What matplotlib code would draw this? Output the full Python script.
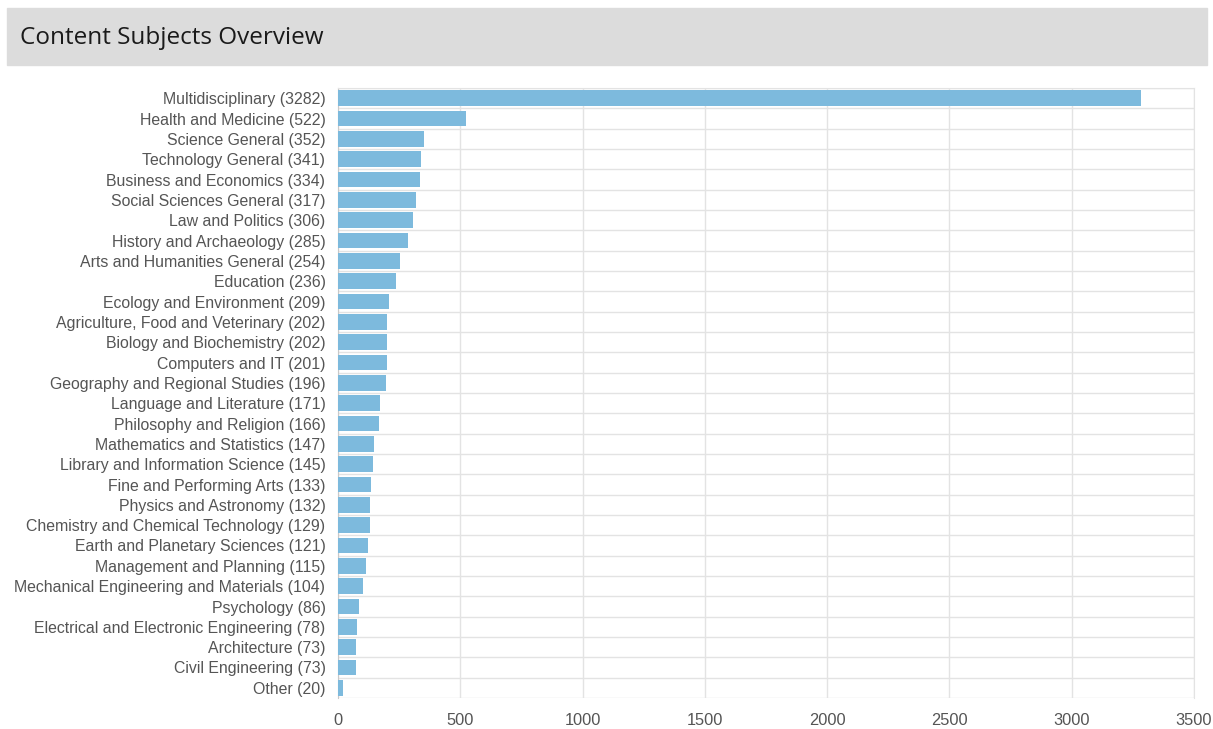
import matplotlib.pyplot as plt
from matplotlib.patches import Rectangle

subjects = [
    "Multidisciplinary", "Health and Medicine", "Science General",
    "Technology General", "Business and Economics", "Social Sciences General",
    "Law and Politics", "History and Archaeology", "Arts and Humanities General",
    "Education", "Ecology and Environment", "Agriculture, Food and Veterinary",
    "Biology and Biochemistry", "Computers and IT", "Geography and Regional Studies",
    "Language and Literature", "Philosophy and Religion", "Mathematics and Statistics",
    "Library and Information Science", "Fine and Performing Arts",
    "Physics and Astronomy", "Chemistry and Chemical Technology",
    "Earth and Planetary Sciences", "Management and Planning",
    "Mechanical Engineering and Materials", "Psychology",
    "Electrical and Electronic Engineering", "Architecture", "Civil Engineering",
    "Other",
]
counts = [3282, 522, 352, 341, 334, 317, 306, 285, 254, 236, 209, 202, 202, 201,
          196, 171, 166, 147, 145, 133, 132, 129, 121, 115, 104, 86, 78, 73, 73, 20]
xticks = [0, 500, 1000, 1500, 2000, 2500, 3000, 3500]

labels = [f"{s} ({c})" for s, c in zip(subjects, counts)]

fig = plt.figure(figsize=(12.13, 7.29), dpi=100)

# grey title banner
fig.patches.append(Rectangle((7 / 1213, 1 - 65 / 729), 1200 / 1213, 57 / 729,
                             transform=fig.transFigure, color="#dcdcdc", zorder=0))
fig.text(20 / 1213, 1 - 38 / 729, "Content Subjects Overview", family="Open Sans",
         fontsize=17.5, color="#1a1a1a", va="center", ha="left")

ax = fig.add_axes([338 / 1213, 1 - 698 / 729, 856 / 1213, 610 / 729])
n = len(labels)
y = list(range(n))
ax.barh(y, counts, height=0.78, color="#7dbadd", zorder=3)
ax.set_ylim(n - 0.5, -0.5)
ax.set_xlim(0, 3500)
ax.set_yticks(y)
ax.set_yticklabels(labels, family="Liberation Sans", fontsize=11.4, color="#555555")
ax.set_xticks(xticks)
ax.set_xticklabels([str(t) for t in xticks], family="Liberation Sans",
                   fontsize=11.8, color="#555555")
ax.tick_params(length=0)
ax.tick_params(axis="x", pad=11)
ax.tick_params(axis="y", pad=9)

# grid lines between rows and at ticks
ax.set_yticks([i + 0.5 for i in range(-1, n)], minor=True)
ax.grid(axis="y", which="minor", color="#e3e3e3", linewidth=1, zorder=0)
ax.grid(axis="x", which="major", color="#e3e3e3", linewidth=1, zorder=0)
ax.tick_params(which="minor", length=0)

for side in ["top", "right", "bottom"]:
    ax.spines[side].set_color("#e3e3e3")
ax.spines["bottom"].set_visible(False)
ax.spines["left"].set_color("#c8c8c8")

fig.savefig("out.png", dpi=100)
